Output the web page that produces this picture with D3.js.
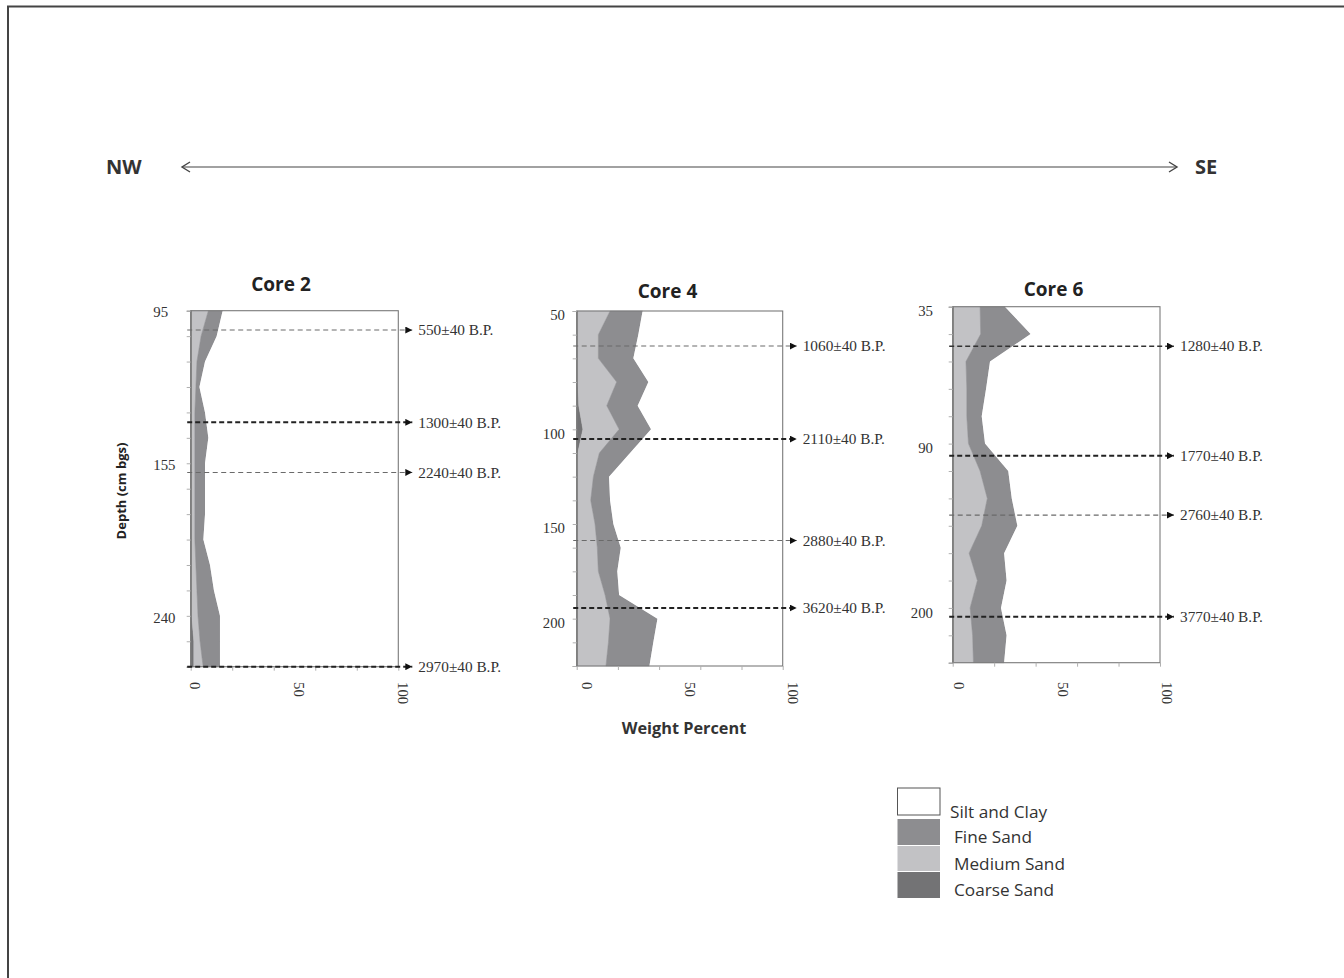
<!DOCTYPE html>
<html>
<head>
<meta charset="utf-8">
<script src="https://cdn.jsdelivr.net/npm/d3@7"></script>
<style>
  html, body { margin: 0; padding: 0; background: #fff; }
  svg { display: block; }
</style>
</head>
<body>
<svg id="chart" width="1344" height="978"></svg>
<script>
// ---------------- DATA ----------------
const keys = ["coarse", "medium", "fine", "silt"];
const legendLabels = ["Silt and Clay", "Fine Sand", "Medium Sand", "Coarse Sand"];
const xTickLabels = [0, 50, 100];

// Core 2
const core2TickLabels = ["95","","","","","","155","","","","","","240","",""];
const core2Coarse = [0.5,0.5,0.5,0.5,0.5,0.5,0.5,0.5,0.5,0.5,0.5,0.5,0.5,1.5,1.5];
const core2Medium = [8,4.5,2.5,2,1.5,1.5,1.5,1.5,1.5,1.5,2,2.5,3,3,4.5];
const core2Fine   = [6.9,7.5,3.9,1.7,4.9,6.5,4.9,4.9,4.9,4.1,6.8,8.2,10.6,9.6,8.1];
const core2Silt   = [84.6,87.5,93.1,95.8,93.1,91.5,93.1,93.1,93.1,93.9,90.7,88.8,85.9,85.9,85.9];
const core2Dates  = ["550±40 B.P.","1300±40 B.P.","2240±40 B.P.","2970±40 B.P."];
const core2DatePos = [0.76, 4.39, 6.36, 14.0];
const core2DateStyle = ["light","bold","light","bold"];

// Core 4
const core4TickLabels = ["50","","","","","100","","","","150","","","","200","",""];
const core4Coarse = [0.5,0.5,0.5,0.5,1,3,0.5,0.5,0.5,0.5,0.5,0.5,0.5,0.5,0.5,0.5];
const core4Medium = [15.7,10,10,18.9,13.6,17.6,10.5,7.6,6.3,8.4,9.5,10,13.3,15.7,14.9,13.7];
const core4Fine   = [15.8,19.4,17.0,15.4,15.0,15.5,14.9,7.6,9.4,8.9,11.4,9.2,6.8,23.0,21.8,21.1];
const core4Silt   = [68.0,70.1,72.5,65.2,70.4,63.9,74.1,84.3,83.8,82.2,78.6,80.3,79.4,60.8,62.8,64.7];
const core4Dates  = ["1060±40 B.P.","2110±40 B.P.","2880±40 B.P.","3620±40 B.P."];
const core4DatePos = [1.48, 5.41, 9.70, 12.55];
const core4DateStyle = ["light","bold","light","bold"];

// Core 6
const core6TickLabels = ["35","","","","","90","","","","","","200","",""];
const core6Coarse = [0.5,0.5,0.5,0.5,0.5,0.5,0.5,0.5,0.5,0.5,0.5,0.5,0.5,0.5];
const core6Medium = [12.7,13,5.9,6.3,6.3,7.1,12.7,16.2,13.5,7.4,11.4,7.9,9.1,9.5];
const core6Fine   = [12.0,24.1,11.6,9.3,7.2,8.0,13.6,11.8,17.2,16.9,14.1,14.9,16.4,14.8];
const core6Silt   = [74.8,62.4,82.0,83.9,86.0,84.4,73.2,71.5,68.8,75.2,74.0,76.7,74.0,75.2];
const core6Dates  = ["1280±40 B.P.","1770±40 B.P.","2760±40 B.P.","3770±40 B.P."];
const core6DatePos = [1.44, 5.44, 7.61, 11.32];
const core6DateStyle = ["medium","bold","light","bold"];

// ---------------- STYLE / LAYOUT ----------------
const colors = { coarse: "#737375", medium: "#c2c2c5", fine: "#8d8d90", silt: "#ffffff" };
const SANS = "'Open Sans', 'DejaVu Sans', sans-serif";
const SERIF = "'Liberation Serif', 'Times New Roman', serif";

const cores = [
  { title: "Core 2", labels: core2TickLabels, coarse: core2Coarse, medium: core2Medium, fine: core2Fine, silt: core2Silt,
    dates: core2Dates, datePos: core2DatePos, dateStyle: core2DateStyle,
    box: { left: 190.7, right: 398.3, top: 310.7, bottom: 666.7 },
    yLab: { x: 153.3, anchor: "start", dy: 1.5 }, xLabOff: -0.5, titleX: 281, titleY: 291 },
  { title: "Core 4", labels: core4TickLabels, coarse: core4Coarse, medium: core4Medium, fine: core4Fine, silt: core4Silt,
    dates: core4Dates, datePos: core4DatePos, dateStyle: core4DateStyle,
    box: { left: 576.7, right: 782.7, top: 311, bottom: 666 },
    yLab: { x: 565, anchor: "end", dy: 4 }, xLabOff: 5.5, titleX: 667.5, titleY: 298 },
  { title: "Core 6", labels: core6TickLabels, coarse: core6Coarse, medium: core6Medium, fine: core6Fine, silt: core6Silt,
    dates: core6Dates, datePos: core6DatePos, dateStyle: core6DateStyle,
    box: { left: 952.7, right: 1160, top: 306.7, bottom: 662.7 },
    yLab: { x: 933, anchor: "end", dy: 4.5 }, xLabOff: 1.5, titleX: 1053.5, titleY: 296 }
];

const dateStyles = {
  light:  { stroke: "#6a6a6a", width: 1.1, dash: "5,3.5" },
  medium: { stroke: "#333",    width: 1.5, dash: "5,3" },
  bold:   { stroke: "#222",    width: 2,   dash: "5,3" }
};

const svg = d3.select("#chart");

// page frame (left and top rule)
svg.append("line").attr("x1", 8).attr("x2", 8).attr("y1", 6.5).attr("y2", 978)
  .attr("stroke", "#444").attr("stroke-width", 2);
svg.append("line").attr("x1", 7).attr("x2", 1344).attr("y1", 6.5).attr("y2", 6.5)
  .attr("stroke", "#444").attr("stroke-width", 2);

// NW <-> SE arrow
const hdr = svg.append("g");
hdr.append("line").attr("x1", 182).attr("x2", 1177).attr("y1", 167).attr("y2", 167)
  .attr("stroke", "#444").attr("stroke-width", 1.2);
hdr.append("path").attr("d", "M190,162 L182,167 L190,172").attr("fill", "none").attr("stroke", "#444").attr("stroke-width", 1.4);
hdr.append("path").attr("d", "M1169,162 L1177,167 L1169,172").attr("fill", "none").attr("stroke", "#444").attr("stroke-width", 1.4);
hdr.append("text").attr("x", 106).attr("y", 174).text("NW")
  .attr("font-family", SANS).attr("font-weight", 700).attr("font-size", 20).attr("fill", "#333");
hdr.append("text").attr("x", 1195).attr("y", 174).text("SE")
  .attr("font-family", SANS).attr("font-weight", 700).attr("font-size", 20).attr("fill", "#333");

// arrowhead marker
svg.append("defs").append("marker")
  .attr("id", "tri").attr("viewBox", "0 0 10 10").attr("refX", 10).attr("refY", 5)
  .attr("markerWidth", 7).attr("markerHeight", 7).attr("markerUnits", "userSpaceOnUse")
  .attr("orient", "auto")
  .append("path").attr("d", "M0,0 L10,5 L0,10 Z").attr("fill", "#111");

cores.forEach(core => {
  const n = core.labels.length;
  const b = core.box;
  const g = svg.append("g");
  const x = d3.scaleLinear().domain([0, 100]).range([b.left, b.right]);
  const y = d3.scaleLinear().domain([0, n - 1]).range([b.top, b.bottom]);

  const rows = d3.range(n).map(i => ({
    coarse: core.coarse[i], medium: core.medium[i], fine: core.fine[i], silt: core.silt[i], i
  }));
  const series = d3.stack().keys(keys)(rows);

  const area = d3.area()
    .y(d => y(d.data.i))
    .x0(d => x(d[0]))
    .x1(d => x(Math.min(100, d[1])))
    .curve(d3.curveLinear);

  g.selectAll("path.layer").data(series).join("path")
    .attr("class", "layer")
    .attr("d", area)
    .attr("fill", d => colors[d.key])
    .attr("stroke", d => d.key === "silt" ? "none" : colors[d.key])
    .attr("stroke-width", 0.5);

  // box
  g.append("rect").attr("x", b.left).attr("y", b.top)
    .attr("width", b.right - b.left).attr("height", b.bottom - b.top)
    .attr("fill", "none").attr("stroke", "#7a7a7a").attr("stroke-width", 1.1);

  // left axis (categories)
  const yAxis = d3.axisLeft(y).tickValues(d3.range(n)).tickSize(4).tickFormat(() => "");
  const ya = g.append("g").attr("transform", `translate(${b.left},0)`).call(yAxis);
  ya.select(".domain").attr("stroke", "#7a7a7a");
  ya.selectAll(".tick line").attr("stroke", "#b0b0b0");

  // y labels
  g.selectAll("text.ylab").data(core.labels.map((l, i) => ({ l, i })).filter(d => d.l !== ""))
    .join("text").attr("class", "ylab")
    .attr("x", core.yLab.x).attr("y", d => y(d.i) + core.yLab.dy)
    .attr("dy", "0.35em").attr("text-anchor", core.yLab.anchor)
    .attr("font-family", SERIF).attr("font-size", 14.8).attr("fill", "#333")
    .text(d => d.l);

  // bottom axis ticks
  const xAxis = d3.axisBottom(x).tickValues([0, 20, 40, 60, 80, 100]).tickSize(4).tickFormat(() => "");
  const xa = g.append("g").attr("transform", `translate(0,${b.bottom})`).call(xAxis);
  xa.select(".domain").remove();
  xa.selectAll(".tick line").attr("stroke", "#b0b0b0");

  // rotated x labels
  g.selectAll("text.xlab").data(xTickLabels).join("text").attr("class", "xlab")
    .attr("transform", d => `translate(${x(d) + core.xLabOff},682) rotate(90)`)
    .attr("text-anchor", "start")
    .attr("font-family", SERIF).attr("font-size", 14.8).attr("fill", "#333")
    .text(d => d);

  // title
  g.append("text").attr("x", core.titleX).attr("y", core.titleY).attr("text-anchor", "middle")
    .attr("font-family", SANS).attr("font-weight", 700).attr("font-size", 19).attr("fill", "#222")
    .text(core.title);

  // date lines
  core.dates.forEach((lab, k) => {
    const st = dateStyles[core.dateStyle[k]];
    const yy = y(core.datePos[k]);
    g.append("line").attr("x1", b.left - 3.5).attr("x2", b.right + 14)
      .attr("y1", yy).attr("y2", yy)
      .attr("stroke", st.stroke).attr("stroke-width", st.width).attr("stroke-dasharray", st.dash)
      .attr("marker-end", "url(#tri)");
    g.append("text").attr("x", b.right + 20).attr("y", yy).attr("dy", "0.35em")
      .attr("font-family", SERIF).attr("font-size", 15.3).attr("fill", "#333")
      .text(lab);
  });
});

// axis titles
svg.append("text").attr("transform", "translate(126,491) rotate(-90)").attr("text-anchor", "middle")
  .attr("font-family", SANS).attr("font-weight", 700).attr("font-size", 13).attr("fill", "#222")
  .text("Depth (cm bgs)");
svg.append("text").attr("x", 684).attr("y", 734).attr("text-anchor", "middle")
  .attr("font-family", SANS).attr("font-weight", 700).attr("font-size", 16.3).attr("fill", "#333")
  .text("Weight Percent");

// legend
const legendKeys = ["silt", "fine", "medium", "coarse"];
const legendBoxes = [
  { y: 788, h: 27 }, { y: 819, h: 26 }, { y: 846, h: 25 }, { y: 872, h: 26 }
];
const lg = svg.append("g");
legendKeys.forEach((k, i) => {
  const bx = legendBoxes[i];
  lg.append("rect").attr("x", 897.5).attr("y", bx.y).attr("width", 42.5).attr("height", bx.h)
    .attr("fill", colors[k])
    .attr("stroke", k === "silt" ? "#555" : "none").attr("stroke-width", 1);
  lg.append("text").attr("x", i === 0 ? 950 : 954).attr("y", bx.y + (i === 0 ? 30 : 24))
    .attr("font-family", SANS).attr("font-size", 17.2).attr("fill", "#333")
    .text(legendLabels[i]);
});
</script>
</body>
</html>
